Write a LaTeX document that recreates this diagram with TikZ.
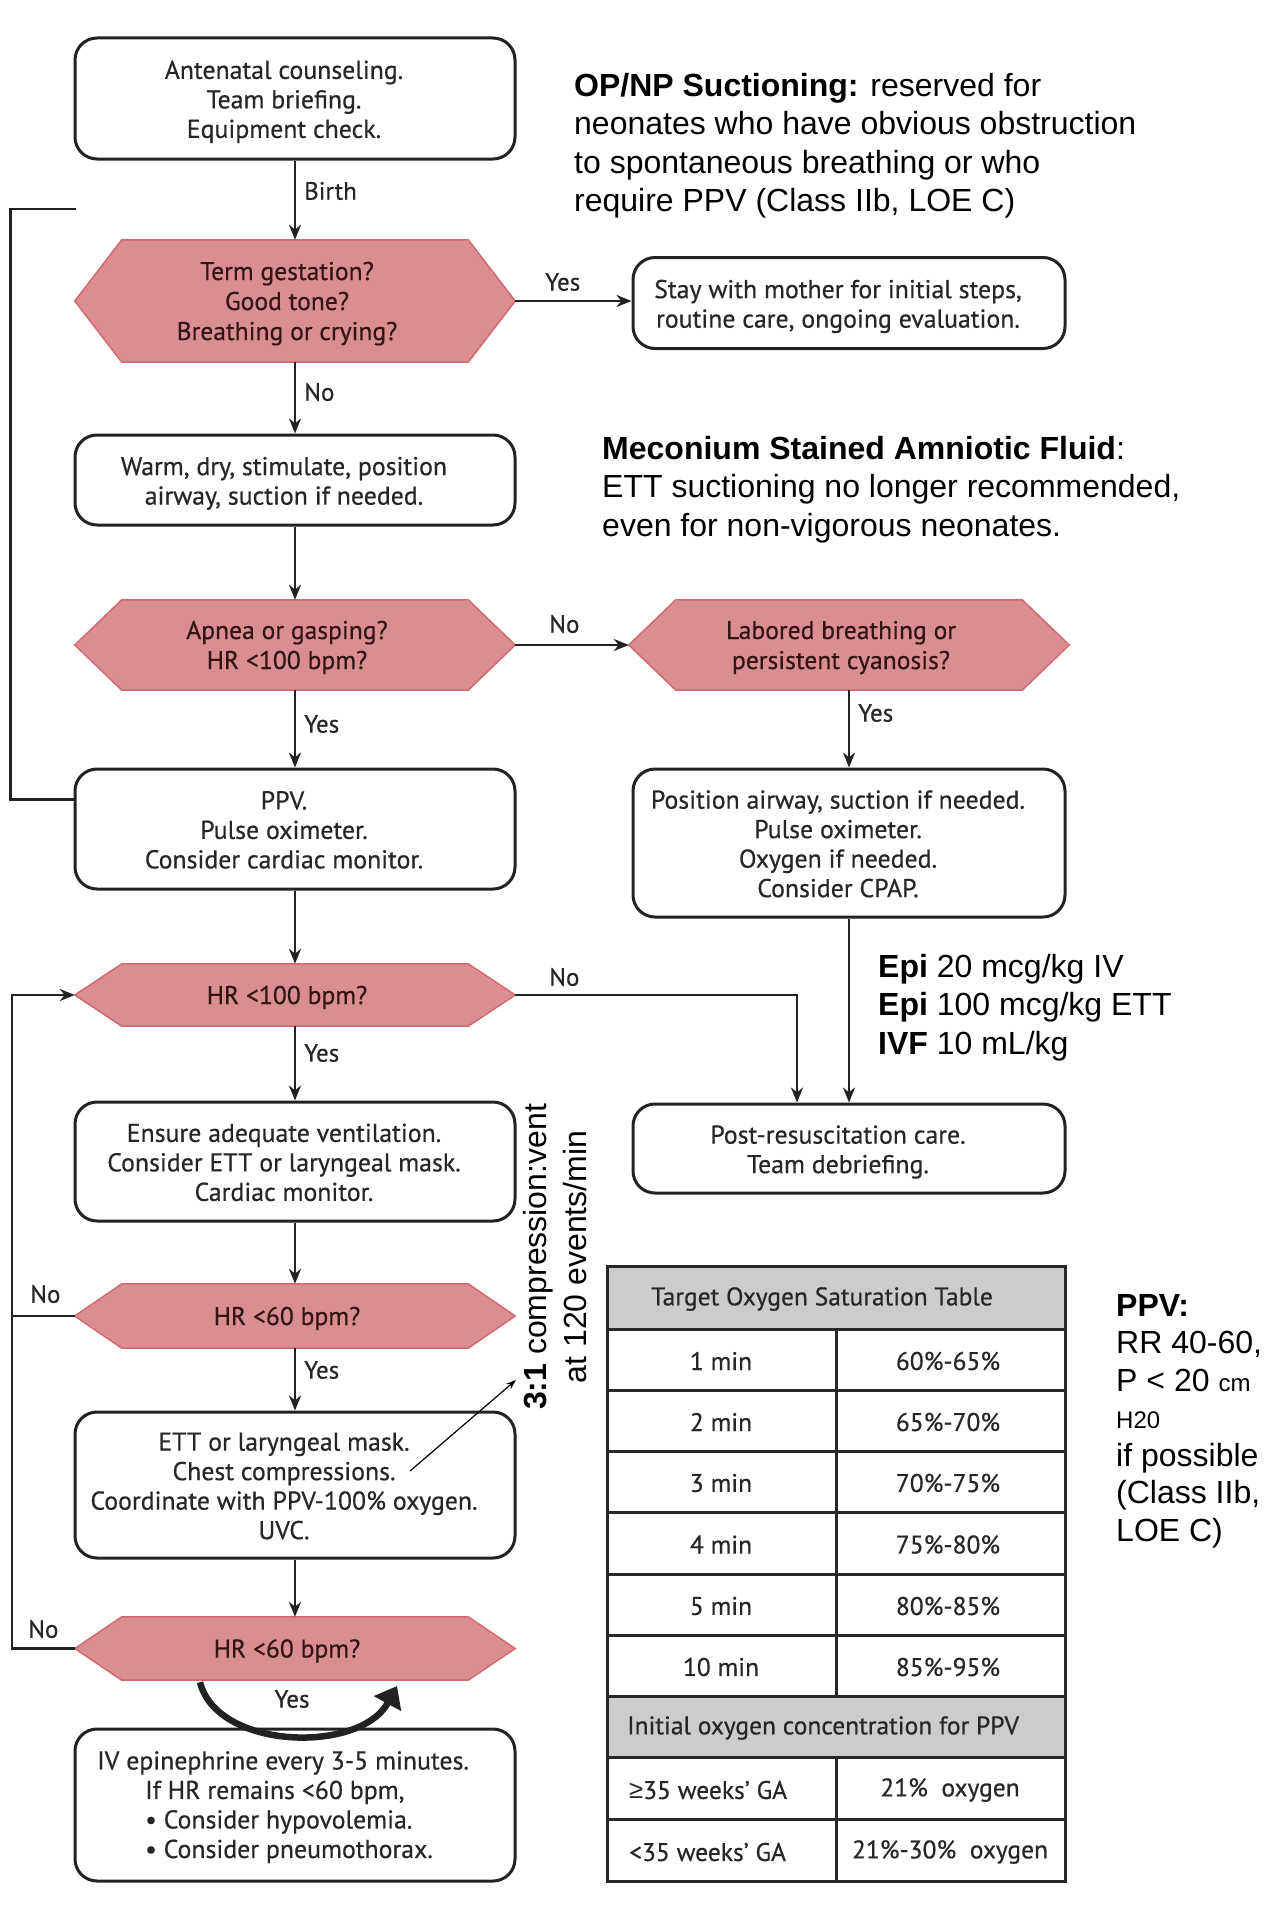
\documentclass[tikz,border=0pt]{standalone}
\usepackage{fontspec}
\setmainfont{PT Sans}[FakeBold=0.5]
\newfontfamily\arialfont{Liberation Sans}
\usetikzlibrary{arrows.meta,calc,backgrounds}

\definecolor{hexfill}{RGB}{219,142,146}
\definecolor{hexline}{RGB}{210,104,112}
\definecolor{hextext}{RGB}{50,22,22}
\definecolor{boxline}{RGB}{34,34,34}
\definecolor{boxtext}{RGB}{38,38,38}
\definecolor{tablegray}{RGB}{204,204,204}
\definecolor{tableline}{RGB}{40,40,40}

\newcommand\hexpoly[1]{%
  \path[fill=hexfill,draw=hexline,line width=1.5pt]
    ($(#1.north west)+(47,0)$) -- ($(#1.north east)+(-47,0)$) -- (#1.east) --
    ($(#1.south east)+(-47,0)$) -- ($(#1.south west)+(47,0)$) -- (#1.west) -- cycle;}
\newcommand\bxt[1]{\begin{tabular}{@{}c@{\hspace{22pt}}}\rule{0pt}{28.6pt}#1\end{tabular}}
\newcommand\hxt[1]{\begin{tabular}{@{}c@{\hspace{16pt}}}\rule{0pt}{27pt}#1\end{tabular}}

\begin{document}
\begin{tikzpicture}[x=1pt,y=-1pt,
  box/.style={draw=boxline, line width=3pt, rounded corners=22pt, text=boxtext,
    font=\fontsize{25.8}{29.5}\selectfont, minimum width=440pt, inner sep=0pt},
  boxtxt/.style={text=boxtext, align=left, font=\fontsize{25.8}{29.5}\selectfont, inner sep=0pt},
  hexnode/.style={text=hextext, font=\fontsize{25.6}{30}\selectfont,
    minimum width=440pt, inner sep=0pt},
  lbl/.style={font=\fontsize{25}{28}\selectfont, text=boxtext, inner sep=0pt, anchor=west},
  arr/.style={draw=boxline, line width=2.5pt, -{Stealth[length=15pt,width=12pt]}},
  plain/.style={draw=boxline, line width=2.5pt},
  note/.style={font=\arialfont\fontsize{32}{38.5}\selectfont, align=left, inner sep=0pt, text=black},
  cell/.style={font=\fontsize{25.5}{29}\selectfont, text=boxtext, inner sep=0pt},
]
\useasboundingbox (0,0) rectangle (1277,1908);

% ---------- flowchart nodes ----------
\node[box, minimum height=121pt] (b1) at (295,98.5) {\bxt{Antenatal counseling.\\Team briefing.\\Equipment check.}};
\node[hexnode, minimum height=122pt] (h1) at (295,301) {\hxt{Term gestation?\\Good tone?\\Breathing or crying?}};
\node[box, minimum width=432pt, minimum height=91pt] (stay) at (849,303) {\bxt{Stay with mother for initial steps,\\routine care, ongoing evaluation.}};
\node[box, minimum height=90pt] (b2) at (295,480) {\bxt{Warm, dry, stimulate, position\\airway, suction if needed.}};
\node[hexnode, minimum height=90pt] (h2) at (295,645) {\hxt{Apnea or gasping?\\HR <100 bpm?}};
\node[hexnode, minimum height=90pt] (h3) at (849,645) {\hxt{Labored breathing or\\persistent cyanosis?}};
\node[box, minimum height=120pt] (b3) at (295,829) {\bxt{PPV.\\Pulse oximeter.\\Consider cardiac monitor.}};
\node[box, minimum width=432pt, minimum height=148pt] (pos) at (849,843) {\bxt{Position airway, suction if needed.\\Pulse oximeter.\\Oxygen if needed.\\Consider CPAP.}};
\node[hexnode, minimum height=62pt] (h4) at (295,995) {\hxt{HR <100 bpm?}};
\node[box, minimum height=119pt] (b4) at (295,1161.5) {\bxt{Ensure adequate ventilation.\\Consider ETT or laryngeal mask.\\Cardiac monitor.}};
\node[box, minimum width=432pt, minimum height=89pt] (post) at (849,1148.5) {\bxt{Post-resuscitation care.\\Team debriefing.}};
\node[hexnode, minimum height=64pt] (h5) at (295,1316) {\hxt{HR <60 bpm?}};
\node[box, minimum height=146pt] (b5) at (295,1485) {\bxt{ETT or laryngeal mask.\\Chest compressions.\\Coordinate with PPV-100\% oxygen.\\UVC.}};
\node[hexnode, minimum height=63pt] (h6) at (295,1648.5) {\hxt{HR <60 bpm?}};
\node[box, minimum height=152pt] (b6) at (295,1805) {};
\node[boxtxt, anchor=north west] (b6t) at (145,1751) {\hspace*{-48pt}IV epinephrine every 3-5 minutes.\\If HR remains <60 bpm,\\• Consider hypovolemia.\\• Consider pneumothorax.};

\begin{scope}[on background layer]
  \fill[white] (0,0) rectangle (1277,1908);
  \hexpoly{h1}\hexpoly{h2}\hexpoly{h3}\hexpoly{h4}\hexpoly{h5}\hexpoly{h6}
\end{scope}

% ---------- connectors ----------
\draw[arr] (b1) -- (h1);
\draw[arr] (h1.east) -- (h1.east -| stay.west);
\draw[arr] (h1) -- (b2);
\draw[arr] (b2) -- (h2);
\draw[arr] (h2) -- (h3);
\draw[arr] (h2) -- (b3);
\draw[arr] (h3) -- (pos);
\draw[arr] (pos) -- (post);
\draw[arr] (b3) -- (h4);
\draw[arr] (h4) -- (b4);
\draw[arr] (b4) -- (h5);
\draw[arr] (h5) -- (b5);
\draw[arr] (b5) -- (h6);
\draw[arr] (h4.east) -| ($(post.north)+(-52,0)$);
\draw[arr] (h5.west) -- ++(-63,0) |- (h4.west);
\draw[plain] (h6.west) -| ($(h5.west)+(-63,0)$);
\coordinate (brend) at (76,209);
\draw[plain] ($(b3.north west)+(0,32)$) -- ++(-63,0) |- (brend);
\draw[boxline, line width=6.5pt, -{Triangle[length=20pt,width=30pt]}]
  (h6.south) ++(-95,2) .. controls (217,1750) and (360,1754) .. (397,1686);

% ---------- labels ----------
\node[lbl] (lbirth) at (304,191) {Birth};
\node[lbl] (ly1) at (545,282) {Yes};
\node[lbl] (ln1) at (304,392) {No};
\node[lbl] (ln2) at (549,624) {No};
\node[lbl] (ly2) at (304,724) {Yes};
\node[lbl] (ly3) at (858,713) {Yes};
\node[lbl] (ln4) at (549,977) {No};
\node[lbl] (ly4) at (304,1053) {Yes};
\node[lbl] (ln5) at (30,1294) {No};
\node[lbl] (ly5) at (304,1370) {Yes};
\node[lbl] (ln6) at (28,1629) {No};
\node[lbl, anchor=center] (ly6) at (292,1699) {Yes};

% ---------- rotated annotation ----------
\node[rotate=90, font=\arialfont\fontsize{32}{40}\selectfont, align=center, inner sep=0pt] (ratio) at (555,1257)
  {\textbf{3:1} compression:vent\\at 120 events/min};
\coordinate (annstart) at (410,1471);
\coordinate (annend) at (516,1380);
\draw[black, line width=1.2pt, -{Stealth[length=10pt,width=7pt]}] (annstart) -- (annend);

% ---------- notes ----------
\node[note, anchor=north west] (opnp) at (574,73) {\textbf{OP/NP Suctioning:} reserved for\\neonates who have obvious obstruction\\to spontaneous breathing or who\\require PPV (Class IIb, LOE C)};
\node[note, anchor=north west] (mec) at (602,436) {\textbf{Meconium Stained Amniotic Fluid}:\\ETT suctioning no longer recommended,\\even for non-vigorous neonates.};
\node[note, anchor=north west] (epi) at (878,954) {\textbf{Epi} 20 mcg/kg IV\\\textbf{Epi} 100 mcg/kg ETT\\\textbf{IVF} 10 mL/kg};
\node[note, anchor=north west, font=\arialfont\fontsize{32}{37.5}\selectfont] (ppv) at (1116,1294) {\textbf{PPV:}\\RR 40-60,\\P < 20 {\fontsize{24}{28}\selectfont cm}\\{\fontsize{24}{28}\selectfont H20}\\if possible\\(Class IIb,\\LOE C)};

% ---------- table ----------
\fill[tablegray] (607,1266) rectangle (1065,1329);
\fill[tablegray] (607,1696) rectangle (1065,1757);
\draw[tableline, line width=3pt] (607,1266) rectangle (1065,1881);
\foreach \yy in {1329,1390,1451,1512,1574,1635,1696,1757,1819}
  \draw[tableline, line width=3pt] (607,\yy) -- (1065,\yy);
\draw[tableline, line width=3pt] (836,1329) -- (836,1696);
\draw[tableline, line width=3pt] (836,1757) -- (836,1881);

\node[cell] (t0) at (822,1299) {Target Oxygen Saturation Table};
\node[cell] (t1a) at (721,1361) {1 min};   \node[cell] (t1b) at (948,1361) {60\%-65\%};
\node[cell] (t2a) at (721,1422) {2 min};   \node[cell] (t2b) at (948,1422) {65\%-70\%};
\node[cell] (t3a) at (721,1483) {3 min};   \node[cell] (t3b) at (948,1483) {70\%-75\%};
\node[cell] (t4a) at (721,1544.5) {4 min};   \node[cell] (t4b) at (948,1544.5) {75\%-80\%};
\node[cell] (t5a) at (721,1606) {5 min};   \node[cell] (t5b) at (948,1606) {80\%-85\%};
\node[cell] (t6a) at (721,1667) {10 min};  \node[cell] (t6b) at (948,1667) {85\%-95\%};
\node[cell, anchor=west] (t7) at (627,1728) {Initial oxygen concentration for PPV};
\node[cell, anchor=west] (t8a) at (629,1790) {{\arialfont ≥}35 weeks’ GA};   \node[cell] (t8b) at (950,1790) {21\%\ \ oxygen};
\node[cell, anchor=west] (t9a) at (629,1852) {<35 weeks’ GA};   \node[cell] (t9b) at (950,1852) {21\%-30\%\ \ oxygen};
\end{tikzpicture}
\end{document}
